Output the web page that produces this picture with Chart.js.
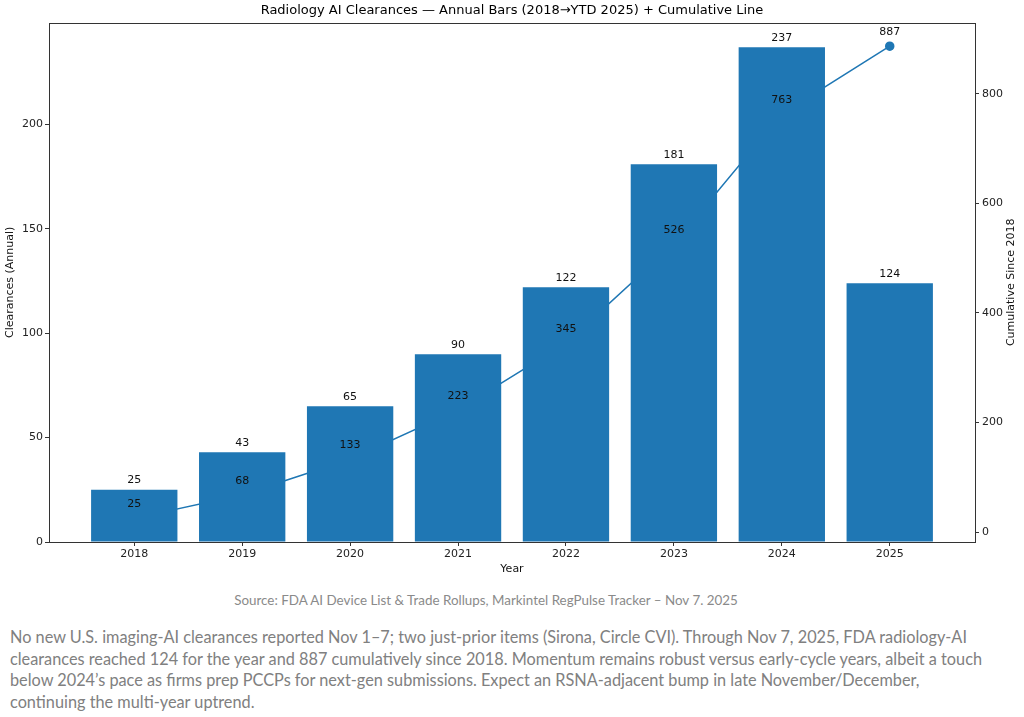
<!DOCTYPE html>
<html>
<head>
<meta charset="utf-8">
<script src="https://cdn.jsdelivr.net/npm/chart.js@4"></script>
<style>
  body { margin: 0; background: #fff; width: 1024px; height: 717px; position: relative; overflow: hidden; }
  #chart { position: absolute; left: 0; top: 0; }
  .source { position: absolute; top: 592px; left: 0; width: 972px; text-align: center;
    font-family: Lato, "Noto Sans", sans-serif; font-size: 13.4px; color: #8a8a8a; }
  .note { position: absolute; top: 626px; left: 10px; white-space: nowrap;
    font-family: Lato, "Noto Sans", sans-serif; font-size: 16.3px; line-height: 21.5px; color: #808080; }
</style>
</head>
<body>
<canvas id="chart" width="1024" height="580"></canvas>
<div class="source">Source: FDA AI Device List &amp; Trade Rollups, Markintel RegPulse Tracker – Nov 7. 2025</div>
<div class="note">No new U.S. imaging-AI clearances reported Nov 1–7; two just-prior items (Sirona, Circle CVI). Through Nov 7, 2025, FDA radiology-AI<br>clearances reached 124 for the year and 887 cumulatively since 2018. Momentum remains robust versus early-cycle years, albeit a touch<br>below 2024’s pace as firms prep PCCPs for next-gen submissions. Expect an RSNA-adjacent bump in late November/December,<br>continuing the multi-year uptrend.</div>
<script>
'use strict'

// データ
const years = ['2018', '2019', '2020', '2021', '2022', '2023', '2024', '2025'];
const annual = [25, 43, 65, 90, 122, 181, 237, 124];
const cumulative = [25, 68, 133, 223, 345, 526, 763, 887];
const leftTicks = [0, 50, 100, 150, 200];
const rightTicks = [0, 200, 400, 600, 800];

const blue = '#1f77b4';
const font = 'DejaVu Sans';

// 枠線 + 右軸タイトル（下から上へ）
const framePlugin = {
  id: 'frame',
  afterDraw(chart) {
    const a = chart.chartArea;
    const ctx = chart.ctx;
    ctx.save();
    ctx.strokeStyle = '#333';
    ctx.lineWidth = 1;
    ctx.strokeRect(Math.round(a.left) + 0.5, Math.round(a.top) + 0.5,
      Math.round(a.right - a.left), Math.round(a.bottom - a.top));
    ctx.translate(1011, (a.top + a.bottom) / 2);
    ctx.rotate(-Math.PI / 2);
    ctx.font = '11px "' + font + '"';
    ctx.fillStyle = '#111';
    ctx.textAlign = 'center';
    ctx.textBaseline = 'middle';
    ctx.fillText('Cumulative Since 2018', 0, 0);
    ctx.restore();
  }
};

// 数値ラベル
const labelPlugin = {
  id: 'valueLabels',
  afterDatasetsDraw(chart) {
    const ctx = chart.ctx;
    ctx.save();
    ctx.font = '11px "' + font + '"';
    ctx.fillStyle = '#111';
    ctx.textAlign = 'center';
    ctx.textBaseline = 'middle';
    chart.getDatasetMeta(0).data.forEach((el, i) => {
      ctx.fillText(annual[i], el.x, el.y - 9.5);
    });
    chart.getDatasetMeta(1).data.forEach((el, i) => {
      ctx.fillText(cumulative[i], el.x, el.y - 14);
    });
    ctx.restore();
  }
};

const tickFont = { family: font, size: 11 };

new Chart(document.getElementById('chart'), {
  type: 'bar',
  data: {
    datasets: [{
      type: 'bar',
      label: 'Annual',
      data: annual.map((v, i) => ({ x: i, y: v })),
      backgroundColor: blue,
      borderWidth: 0,
      categoryPercentage: 1,
      barPercentage: 0.8,
      yAxisID: 'y',
      order: 1
    }, {
      type: 'line',
      label: 'Cumulative',
      data: cumulative.map((v, i) => ({ x: i, y: v })),
      borderColor: blue,
      backgroundColor: blue,
      borderWidth: 1.5,
      pointRadius: 4,
      pointHoverRadius: 4,
      yAxisID: 'y1',
      order: 2
    }]
  },
  options: {
    responsive: false,
    animation: false,
    layout: { padding: 0 },
    plugins: {
      legend: { display: false },
      tooltip: { enabled: false },
      title: {
        display: true,
        text: 'Radiology AI Clearances — Annual Bars (2018→YTD 2025) + Cumulative Line',
        color: '#000',
        font: { family: font, size: 13, weight: 'normal' },
        padding: { top: 3, bottom: 4 }
      }
    },
    scales: {
      x: {
        type: 'linear',
        offset: false,
        min: -0.79,
        max: 7.79,
        afterBuildTicks: scale => { scale.ticks = years.map((y, i) => ({ value: i })); },
        afterFit: scale => { scale.height = 38; },
        grid: { offset: false, drawOnChartArea: false, tickLength: 4, color: '#333' },
        border: { display: false },
        ticks: {
          color: '#222', font: tickFont, padding: 2, maxRotation: 0,
          callback: v => years[Math.round(v)]
        },
        title: { display: true, text: 'Year', color: '#111', font: tickFont, padding: { top: 2, bottom: 4 } }
      },
      y: {
        position: 'left',
        min: 0,
        max: 248.85,
        afterBuildTicks: scale => { scale.ticks = leftTicks.map(v => ({ value: v })); },
        afterFit: scale => { scale.width = 49; },
        grid: { drawOnChartArea: false, tickLength: 4, color: '#333' },
        border: { display: false },
        ticks: { color: '#222', font: tickFont, padding: 2 },
        title: { display: true, text: 'Clearances (Annual)', color: '#111', font: tickFont, padding: { top: 4, bottom: 2 } }
      },
      y1: {
        position: 'right',
        min: -18.1,
        max: 930.1,
        afterBuildTicks: scale => { scale.ticks = rightTicks.map(v => ({ value: v })); },
        afterFit: scale => { scale.width = 49; },
        grid: { drawOnChartArea: false, tickLength: 4, color: '#333' },
        border: { display: false },
        ticks: { color: '#222', font: tickFont, padding: 3 }
      }
    }
  },
  plugins: [framePlugin, labelPlugin]
});
</script>
</body>
</html>
